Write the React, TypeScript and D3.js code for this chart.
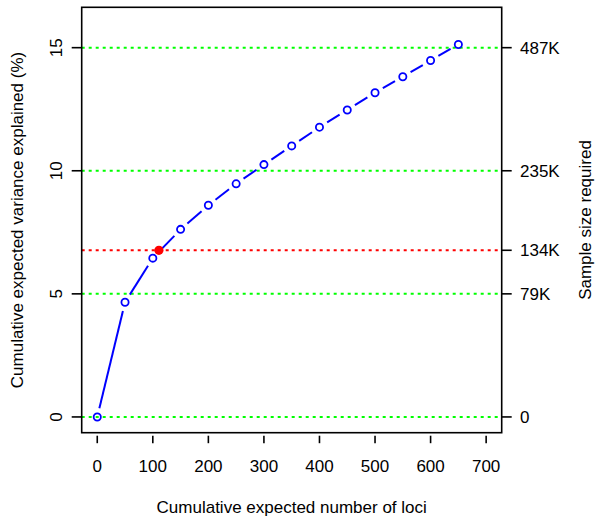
import React from "react";
import * as d3 from "d3";

const loci = [0, 50, 100, 150, 200, 250, 300, 350, 400, 450, 500, 550, 600, 650];
const variance = [0, 4.66, 6.45, 7.62, 8.6, 9.47, 10.25, 11.01, 11.77, 12.47, 13.17, 13.82, 14.48, 15.13];
const highlight = { loci: 111, variance: 6.77 };
const xTicks = [0, 100, 200, 300, 400, 500, 600, 700];
const yTicks = [0, 5, 10, 15];
const greenLines = [0, 5, 10, 15];
const rightTickValues = [0, 5, 6.77, 10, 15];
const rightTickLabels = ["0", "79K", "134K", "235K", "487K"];

const W = 600, H = 519;
const L = 81.7, R = 501.7, T = 7.3, B = 432.7;
const FONT = "'Liberation Sans', Arial, Helvetica, sans-serif";

export default function App() {
  const x = d3.scaleLinear().domain([-28, 728]).range([L, R]);
  const y = d3.scaleLinear().domain([-0.64, 16.64]).range([B, T]);
  const pts = loci.map((l, i) => [x(l), y(variance[i])] as [number, number]);
  const gap = 9;
  const segs: { x1: number; y1: number; x2: number; y2: number }[] = [];
  for (let i = 0; i < pts.length - 1; i++) {
    const [ax, ay] = pts[i];
    const [bx, by] = pts[i + 1];
    const dx = bx - ax, dy = by - ay;
    const len = Math.hypot(dx, dy);
    if (len <= 2 * gap) continue;
    const ux = dx / len, uy = dy / len;
    segs.push({ x1: ax + ux * gap, y1: ay + uy * gap, x2: bx - ux * gap, y2: by - uy * gap });
  }
  const fs = 17;
  return (
    <svg width={W} height={H} style={{ position: "absolute", left: 0, top: 0, background: "#fff" }} fontFamily={FONT}>
      <rect x={0} y={0} width={W} height={H} fill="#fff" />
      {greenLines.map((v) => (
        <line key={"g" + v} x1={L} x2={R} y1={y(v)} y2={y(v)} stroke="#00ff00" strokeWidth={2} strokeDasharray="3,4" />
      ))}
      <line x1={L} x2={R} y1={y(highlight.variance)} y2={y(highlight.variance)} stroke="#ff0000" strokeWidth={2} strokeDasharray="3,4" />
      {segs.map((s, i) => (
        <line key={"s" + i} {...s} stroke="#0000ff" strokeWidth={2} />
      ))}
      {pts.map(([px, py], i) => (
        <circle key={"p" + i} cx={px} cy={py} r={3.6} fill="none" stroke="#0000ff" strokeWidth={1.8} />
      ))}
      <circle cx={x(highlight.loci)} cy={y(highlight.variance)} r={4.6} fill="#ff0000" />
      <rect x={L} y={T} width={R - L} height={B - T} fill="none" stroke="#000" strokeWidth={1.6} />
      {xTicks.map((t) => (
        <g key={"xt" + t}>
          <line x1={x(t)} x2={x(t)} y1={B + 3} y2={B + 10.5} stroke="#000" strokeWidth={1.6} />
          <text x={x(t)} y={466} dy="0.35em" textAnchor="middle" fontSize={fs}>{t}</text>
        </g>
      ))}
      {yTicks.map((t) => (
        <g key={"yt" + t}>
          <line x1={L - 10} x2={L} y1={y(t)} y2={y(t)} stroke="#000" strokeWidth={1.6} />
          <text transform={`translate(56,${y(t)}) rotate(-90)`} dy="0.35em" textAnchor="middle" fontSize={fs}>{t}</text>
        </g>
      ))}
      {rightTickValues.map((t, i) => (
        <g key={"rt" + i}>
          <line x1={R} x2={R + 10} y1={y(t)} y2={y(t)} stroke="#000" strokeWidth={1.6} />
          <text x={520} y={y(t)} dy="0.35em" textAnchor="start" fontSize={fs}>{rightTickLabels[i]}</text>
        </g>
      ))}
      <text x={(L + R) / 2} y={507} dy="0.35em" textAnchor="middle" fontSize={fs}>Cumulative expected number of loci</text>
      <text transform={`translate(17,${(T + B) / 2}) rotate(-90)`} dy="0.35em" textAnchor="middle" fontSize={fs}>Cumulative expected variance explained (%)</text>
      <text transform={`translate(585,${(T + B) / 2}) rotate(-90)`} dy="0.35em" textAnchor="middle" fontSize={fs}>Sample size required</text>
    </svg>
  );
}
